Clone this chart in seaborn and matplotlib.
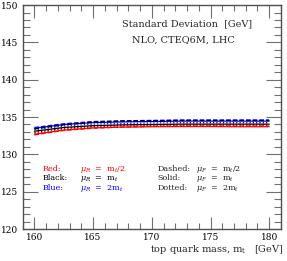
import matplotlib
matplotlib.use("Agg")
import matplotlib.pyplot as plt
import seaborn as sns
import pandas as pd
from matplotlib.ticker import MultipleLocator

sns.set_theme(style="white")
plt.rcParams['font.family'] = ['DejaVu Serif']
plt.rcParams['mathtext.fontset'] = 'dejavuserif'

mt = [160, 162.5, 165, 167.5, 170, 172.5, 175, 177.5, 180]

blue_dashed  = [133.6, 134.1, 134.4, 134.5, 134.55, 134.6, 134.6, 134.6, 134.6]
blue_solid   = [133.5, 134.0, 134.25, 134.35, 134.4, 134.45, 134.45, 134.45, 134.45]
blue_dotted  = [133.3, 133.8, 134.05, 134.15, 134.2, 134.25, 134.25, 134.25, 134.25]
black_dashed = [133.4, 133.95, 134.3, 134.45, 134.5, 134.55, 134.55, 134.55, 134.55]
black_solid  = [133.1, 133.6, 133.85, 133.95, 134.0, 134.05, 134.05, 134.05, 134.05]
black_dotted = [132.95, 133.5, 133.75, 133.9, 133.95, 134.0, 134.0, 134.0, 134.0]
red_dashed   = [132.6, 133.2, 133.5, 133.65, 133.75, 133.8, 133.8, 133.8, 133.8]
red_solid    = [132.7, 133.25, 133.55, 133.65, 133.7, 133.72, 133.72, 133.7, 133.7]
red_dotted   = [132.8, 133.35, 133.65, 133.8, 133.85, 133.9, 133.9, 133.9, 133.9]

series = [
    ("blue", "--", blue_dashed), ("blue", "-", blue_solid), ("blue", ":", blue_dotted),
    ("black", "--", black_dashed), ("black", "-", black_solid), ("black", ":", black_dotted),
    ("red", "--", red_dashed), ("red", "-", red_solid), ("red", ":", red_dotted),
]

fig = plt.figure(figsize=(2.87, 2.61), dpi=100)
ax = fig.add_axes([0.079, 0.1226, 0.900, 0.858])

cmap = {"blue": "#0000ff", "black": "#000000", "red": "#ff0000"}
for col, ls, vals in series:
    df = pd.DataFrame({"mt": mt, "sd": vals})
    sns.lineplot(data=df, x="mt", y="sd", color=cmap[col], linestyle=ls, lw=0.9, ax=ax)

ax.set_xlim(159, 181)
ax.set_ylim(120, 150)
ax.xaxis.set_major_locator(MultipleLocator(5))
ax.xaxis.set_minor_locator(MultipleLocator(1))
ax.yaxis.set_major_locator(MultipleLocator(5))
ax.yaxis.set_minor_locator(MultipleLocator(1))
ax.tick_params(which='both', direction='in', top=True, right=True, bottom=True, left=True,
               color='#707070', width=0.8, labelsize=6.5, pad=3, labelcolor='black')
ax.tick_params(axis='x', which='major', length=9)
ax.tick_params(axis='x', which='minor', length=4)
ax.tick_params(axis='y', which='major', length=11)
ax.tick_params(axis='y', which='minor', length=5)
for s in ax.spines.values():
    s.set_color('#505050')
    s.set_linewidth(1.0)
ax.set_xlabel("")
ax.set_ylabel("")

fig.text(0.986, 0.035, r"top quark mass, m$_\mathregular{t}$   [GeV]", ha='right', va='baseline', fontsize=7)

ax.text(173.0, 147.5, "Standard Deviation  [GeV]", ha='center', va='center', fontsize=7)
ax.text(172.7, 145.3, "NLO, CTEQ6M, LHC", ha='center', va='center', fontsize=7)

fs = 5.8
rows = [127.8, 126.5, 125.2]
ax.text(160.7, rows[0], "Red:", color='#ff0000', fontsize=fs, va='baseline')
ax.text(160.7, rows[1], "Black:", color='black', fontsize=fs, va='baseline')
ax.text(160.7, rows[2], "Blue:", color='#0000ff', fontsize=fs, va='baseline')
ax.text(163.9, rows[0], r"$\mu_R$  =  m$_t$/2", color='#ff0000', fontsize=fs, va='baseline')
ax.text(163.9, rows[1], r"$\mu_R$  =  m$_t$", color='black', fontsize=fs, va='baseline')
ax.text(163.9, rows[2], r"$\mu_R$  =  2m$_t$", color='#0000ff', fontsize=fs, va='baseline')
ax.text(170.5, rows[0], "Dashed:", fontsize=fs, va='baseline')
ax.text(170.5, rows[1], "Solid:", fontsize=fs, va='baseline')
ax.text(170.5, rows[2], "Dotted:", fontsize=fs, va='baseline')
ax.text(173.8, rows[0], r"$\mu_F$  =  m$_t$/2", fontsize=fs, va='baseline')
ax.text(173.8, rows[1], r"$\mu_F$  =  m$_t$", fontsize=fs, va='baseline')
ax.text(173.8, rows[2], r"$\mu_F$  =  2m$_t$", fontsize=fs, va='baseline')

fig.savefig("out.png", dpi=100)
